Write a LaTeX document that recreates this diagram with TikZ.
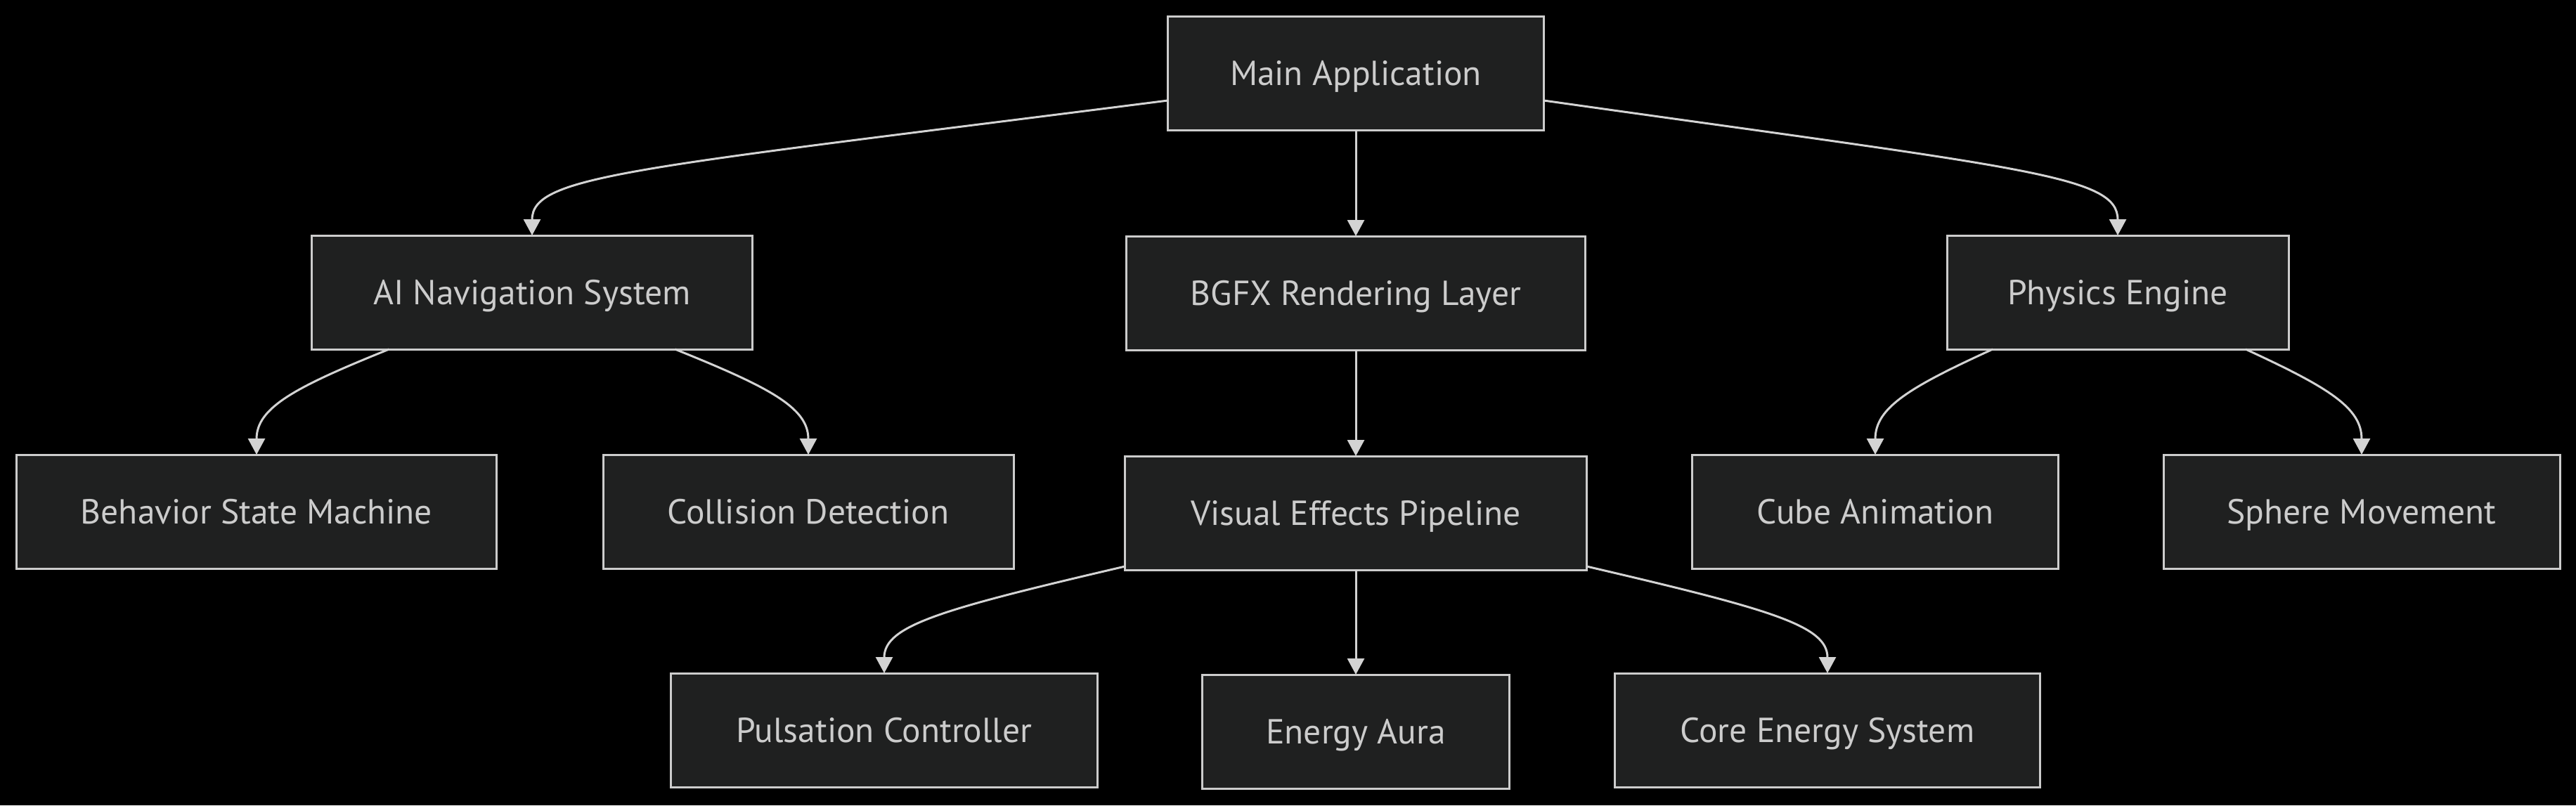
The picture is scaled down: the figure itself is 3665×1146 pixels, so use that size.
\documentclass[tikz,border=0pt]{standalone}
\usepackage{fontspec}
\setmainfont{PT Sans}
\usepackage{tikz}
\usetikzlibrary{arrows.meta, positioning}
\definecolor{nodefill}{HTML}{1F2020}
\definecolor{nodeline}{HTML}{CCCCCC}
\definecolor{edgeline}{HTML}{D3D3D3}
\tikzstyle{module} = [rectangle, minimum height=162pt, inner sep=0pt, outer sep=0pt, text height=46pt, text depth=12pt, text centered, line width=3pt, draw=nodeline, fill=nodefill, text=nodeline, font=\fontsize{49.5}{58}\selectfont]
\tikzstyle{arrow} = [line width=3pt, draw=edgeline, -{Triangle[length=23pt, width=24pt]}]

\begin{document}
\begin{tikzpicture}[x=1pt, y=-1pt]
    \fill [black] (0,0) rectangle (3665,1146);
    \useasboundingbox (0,0) rectangle (3665,1146);

    \node (main) [module, minimum width=535pt] at (1929,104) {Main Application};
    \node (ainav) [module, minimum width=627pt] at (757,416) {AI Navigation System};
    \node (bgfx) [module, minimum width=653pt, below=151pt of main] {BGFX Rendering Layer};
    \node (physics) [module, minimum width=486pt] at (3013,416) {Physics Engine};

    \node (behavior) [module, minimum width=683pt] at (365,728) {Behavior State Machine};
    \node (collision) [module, minimum width=584pt] at (1150,728) {Collision Detection};
    \node (vfx) [module, minimum width=657pt, below=151pt of bgfx] {Visual Effects Pipeline};
    \node (cube) [module, minimum width=521pt] at (2668,728) {Cube Animation};
    \node (sphere) [module, minimum width=564pt] at (3360,728) {Sphere Movement};

    \node (pulsation) [module, minimum width=607pt] at (1258,1039) {Pulsation Controller};
    \node (aura) [module, minimum width=437pt, below=149pt of vfx] {Energy Aura};
    \node (core) [module, minimum width=605pt] at (2600,1039) {Core Energy System};

    % top level
    \draw [arrow] ([yshift=-39pt]main.west) .. controls +(-760,97) and +(0,-86) .. (ainav.north);
    \draw [arrow] (main) -- (bgfx);
    \draw [arrow] ([yshift=-39pt]main.east) .. controls +(685,97) and +(0,-86) .. (physics.north);

    % second level
    \draw [arrow] ([xshift=110pt]ainav.south west) .. controls +(-134,54) and +(0,-67) .. (behavior.north);
    \draw [arrow] ([xshift=-110pt]ainav.south east) .. controls +(134,54) and +(0,-67) .. (collision.north);
    \draw [arrow] (bgfx) -- (vfx);
    \draw [arrow] ([xshift=65pt]physics.south west) .. controls +(-118,54) and +(0,-67) .. (cube.north);
    \draw [arrow] ([xshift=-61pt]physics.south east) .. controls +(117,54) and +(0,-67) .. (sphere.north);

    % effects
    \draw [arrow] ([yshift=5pt]vfx.south west) .. controls +(-261,61) and +(0,-68) .. (pulsation.north);
    \draw [arrow] (vfx) -- (aura);
    \draw [arrow] ([yshift=5pt]vfx.south east) .. controls +(261,61) and +(0,-68) .. (core.north);
\end{tikzpicture}
\end{document}
